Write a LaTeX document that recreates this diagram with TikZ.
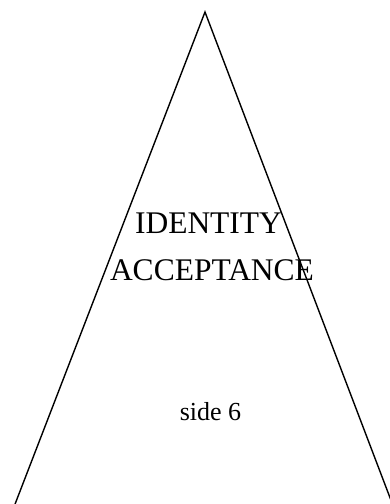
\documentclass[tikz,border=0pt]{standalone}
\usepackage{fontspec}
\setmainfont{Liberation Serif}
\tikzset{
  side/.style={line width=1.4pt, line join=miter},
  title/.style={font=\fontsize{31.5}{37}\selectfont, anchor=base, inner sep=0pt},
  sub/.style={font=\fontsize{26}{31}\selectfont, anchor=base, inner sep=0pt}
}
\begin{document}
\begin{tikzpicture}[x=1pt,y=-1pt]
\useasboundingbox (0,0) rectangle (390,504);
\clip (0,0) rectangle (390,504);
\coordinate (apex) at (205,12);
\coordinate (bl) at (8.9,520);
\coordinate (br) at (398.5,520);
\draw[side] (bl) -- (apex) -- (br);
\node[title] (identity) at (208.5,233) {IDENTITY};
\node[title] (acceptance) at (212,280) {ACCEPTANCE};
\node[sub] (side6) at (210.5,420) {side 6};
\end{tikzpicture}
\end{document}
